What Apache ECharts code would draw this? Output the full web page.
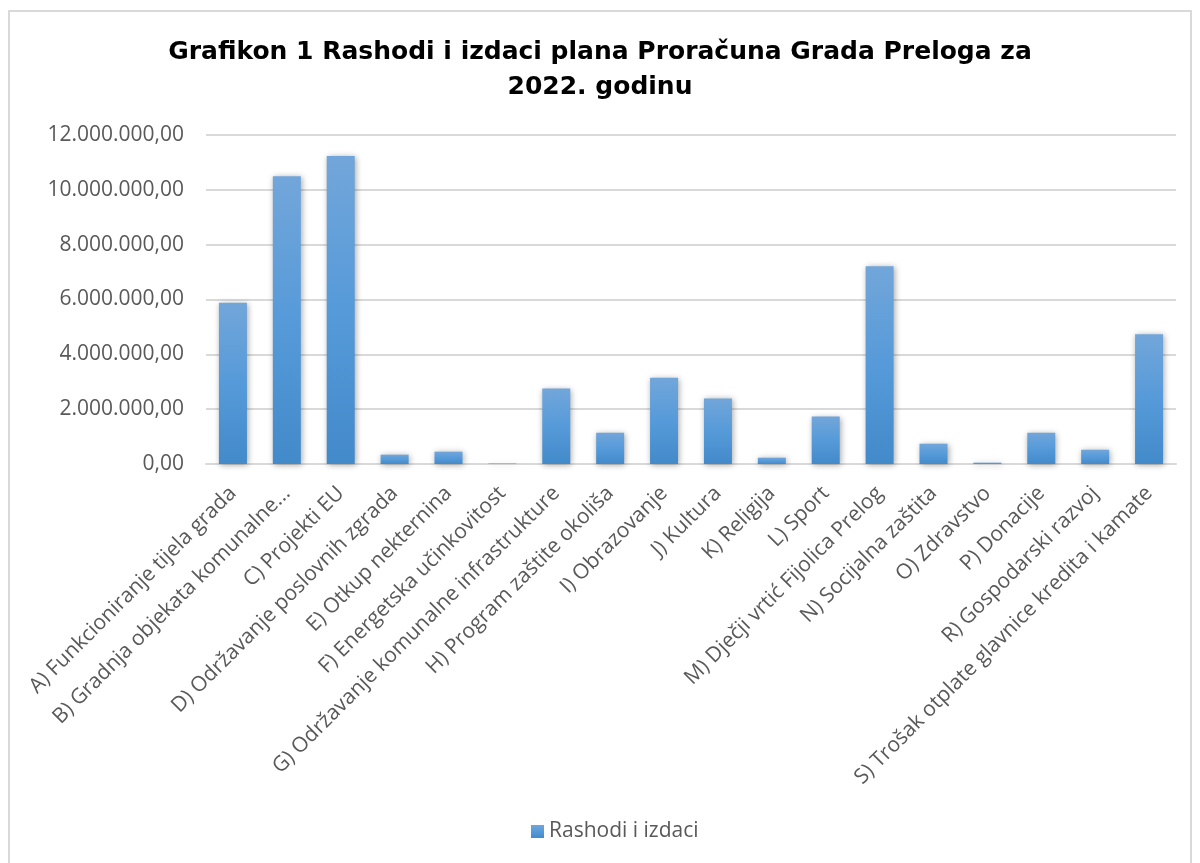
<!DOCTYPE html>
<html>
<head>
<meta charset="utf-8">
<script src="https://cdn.jsdelivr.net/npm/echarts@6/dist/echarts.min.js"></script>
<style>
html, body { margin: 0; padding: 0; background: #fff; }
#frame {
    position: absolute;
    left: 8px; top: 10px;
    width: 1184px; height: 870px;
    border: 2px solid #d9d9d9;
    box-sizing: border-box;
}
#chart { position: absolute; left: 0; top: 0; width: 1200px; height: 863px; }
</style>
</head>
<body>
<div id="frame"></div>
<div id="chart"></div>
<script>
// kategorije (programi)
var categories = [
    'A) Funkcioniranje tijela grada',
    'B) Gradnja objekata komunalne...',
    'C) Projekti EU',
    'D) Održavanje poslovnih zgrada',
    'E) Otkup nekternina',
    'F) Energetska učinkovitost',
    'G) Održavanje komunalne infrastrukture',
    'H) Program zaštite okoliša',
    'I) Obrazovanje',
    'J) Kultura',
    'K) Religija',
    'L) Sport',
    'M) Dječji vrtić Fijolica Prelog',
    'N) Socijalna zaštita',
    'O) Zdravstvo',
    'P) Donacije',
    'R) Gospodarski razvoj',
    'S) Trošak otplate glavnice kredita i kamate'
];
// Rashodi i izdaci (kn), procijenjeno s grafikona
var rashodi = [
    5880000, 10500000, 11230000, 340000, 450000, 20000,
    2750000, 1140000, 3150000, 2390000, 230000, 1730000,
    7210000, 740000, 50000, 1140000, 520000, 4730000
];
var yTicks = { min: 0, max: 12000000, interval: 2000000 };

function fmt(v) {
    var s = String(Math.round(v)).replace(/\B(?=(\d{3})+(?!\d))/g, '.');
    return s + ',00';
}

var myChart = echarts.init(document.getElementById('chart'));
var option = {
    backgroundColor: 'transparent',
    animation: false,
    title: {
        text: 'Grafikon 1 Rashodi i izdaci plana Proračuna Grada Preloga za\n2022. godinu',
        left: 'center',
        top: 30,
        textStyle: {
            fontFamily: 'DejaVu Sans',
            fontWeight: 'bold',
            fontSize: 25,
            lineHeight: 35,
            color: '#000'
        }
    },
    legend: {
        bottom: 16,
        left: 526,
        itemWidth: 13,
        itemHeight: 13,
        itemGap: 6,
        icon: 'rect',
        textStyle: { fontFamily: 'Open Sans', fontSize: 21, color: '#595959' },
        data: ['Rashodi i izdaci']
    },
    grid: { left: 206, right: 24, top: 135, bottom: 399, containLabel: false },
    xAxis: {
        type: 'category',
        data: categories,
        axisLine: { lineStyle: { color: '#d9d9d9', width: 2 } },
        axisTick: { show: false },
        axisLabel: {
            interval: 0,
            rotate: 45,
            margin: 26,
            fontFamily: 'Open Sans',
            fontSize: 21,
            color: '#595959'
        }
    },
    yAxis: {
        type: 'value',
        min: yTicks.min,
        max: yTicks.max,
        interval: yTicks.interval,
        axisLine: { show: false },
        axisTick: { show: false },
        splitLine: { lineStyle: { color: '#d9d9d9', width: 2 } },
        axisLabel: {
            formatter: fmt,
            margin: 22,
            fontFamily: 'Open Sans',
            fontSize: 21,
            color: '#595959'
        }
    },
    series: [{
        name: 'Rashodi i izdaci',
        type: 'bar',
        data: rashodi,
        barWidth: 28,
        itemStyle: {
            color: new echarts.graphic.LinearGradient(0, 0, 0, 1, [
                { offset: 0, color: '#72a6da' },
                { offset: 0.5, color: '#569ad9' },
                { offset: 1, color: '#438aca' }
            ]),
            shadowBlur: 6,
            shadowColor: 'rgba(0,0,0,0.35)',
            shadowOffsetX: 1,
            shadowOffsetY: 1
        }
    }]
};
myChart.setOption(option);
</script>
</body>
</html>
